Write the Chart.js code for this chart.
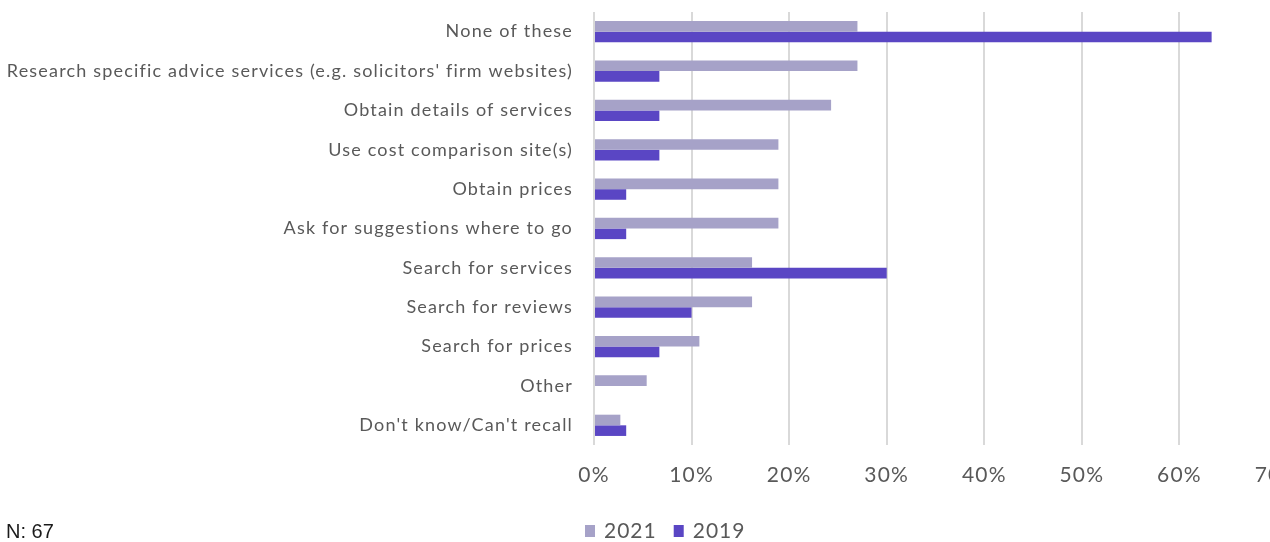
<!DOCTYPE html>
<html>
<head>
<meta charset="utf-8">
<script src="https://cdn.jsdelivr.net/npm/chart.js@4"></script>
<style>
  html, body { margin: 0; padding: 0; background: #fff; overflow: hidden; }
  #wrap { position: relative; width: 1300px; height: 542px; }
</style>
</head>
<body>
<div id="wrap"><canvas id="c" width="1300" height="542"></canvas></div>
<script>
// Online activities undertaken, share of respondents (%)
const categories = [
  "None of these",
  "Research specific advice services (e.g. solicitors' firm websites)",
  "Obtain details of services",
  "Use cost comparison site(s)",
  "Obtain prices",
  "Ask for suggestions where to go",
  "Search for services",
  "Search for reviews",
  "Search for prices",
  "Other",
  "Don't know/Can't recall"
];
const values2021 = [27.0, 27.0, 24.3, 18.9, 18.9, 18.9, 16.2, 16.2, 10.8, 5.4, 2.7];
const values2019 = [63.3, 6.7, 6.7, 6.7, 3.3, 3.3, 30.0, 10.0, 6.7, 0, 3.3];
const seriesNames = ["2021", "2019"];
const xTicks = [0, 10, 20, 30, 40, 50, 60, 70];
const sampleNote = "N: 67";

const colors = ["#A6A2C8", "#5A46C4"];
const labelFont = "Lato";
const textColor = "#595959";
const spacing = "1.18px";

// Slightly open letter spacing for all chart text
const spacedText = {
  id: "spacedText",
  beforeLayout(chart) { chart.ctx.letterSpacing = spacing; },
  beforeDraw(chart) { chart.ctx.letterSpacing = spacing; }
};

// Legend row and sample-size note under the axis
const footer = {
  id: "footer",
  afterDraw(chart) {
    const ctx = chart.ctx;
    ctx.save();
    ctx.textBaseline = "middle";
    ctx.textAlign = "left";
    ctx.letterSpacing = "0px";
    ctx.font = "20px 'Liberation Sans', Arial, sans-serif";
    ctx.fillStyle = "#1a1a1a";
    ctx.fillText(sampleNote, 6, 532);

    ctx.letterSpacing = "1px";
    ctx.font = "21px " + labelFont;
    const y = 531;
    let x = 585;
    chart.data.datasets.forEach(ds => {
      ctx.fillStyle = ds.backgroundColor;
      ctx.fillRect(x, y - 6, 10, 12);
      ctx.fillStyle = textColor;
      ctx.fillText(ds.label, x + 19, y);
      x += 19 + ctx.measureText(ds.label).width + 17;
    });
    ctx.restore();
  }
};

new Chart(document.getElementById("c"), {
  type: "bar",
  data: {
    labels: categories,
    datasets: [
      { label: seriesNames[0], data: values2021, backgroundColor: colors[0] },
      { label: seriesNames[1], data: values2019, backgroundColor: colors[1] }
    ]
  },
  options: {
    indexAxis: "y",
    responsive: false,
    animation: false,
    devicePixelRatio: 1,
    layout: { padding: { top: 12, right: 23, left: 0, bottom: 0 } },
    datasets: { bar: { categoryPercentage: 0.54, barPercentage: 1.0 } },
    plugins: { legend: { display: false }, tooltip: { enabled: false } },
    scales: {
      x: {
        min: 0, max: 70,
        afterBuildTicks(scale) { scale.ticks = xTicks.map(v => ({ value: v })); },
        afterFit(scale) {
          scale.height = 97;
          scale.paddingLeft = 0;
          scale.paddingRight = 0;
        },
        grid: { color: "#D9D9D9", lineWidth: 2, drawTicks: false },
        border: { display: false },
        ticks: {
          padding: 18,
          color: textColor,
          font: { family: labelFont, size: 21 },
          maxRotation: 0,
          callback: v => v + "%"
        }
      },
      y: {
        afterFit(scale) {
          scale.width = 594;
          scale.paddingTop = 0;
          scale.paddingBottom = 0;
        },
        grid: { display: false, drawTicks: false },
        border: { display: false },
        ticks: {
          padding: 21,
          color: textColor,
          font: { family: labelFont, size: 18 }
        }
      }
    }
  },
  plugins: [spacedText, footer]
});
</script>
</body>
</html>
